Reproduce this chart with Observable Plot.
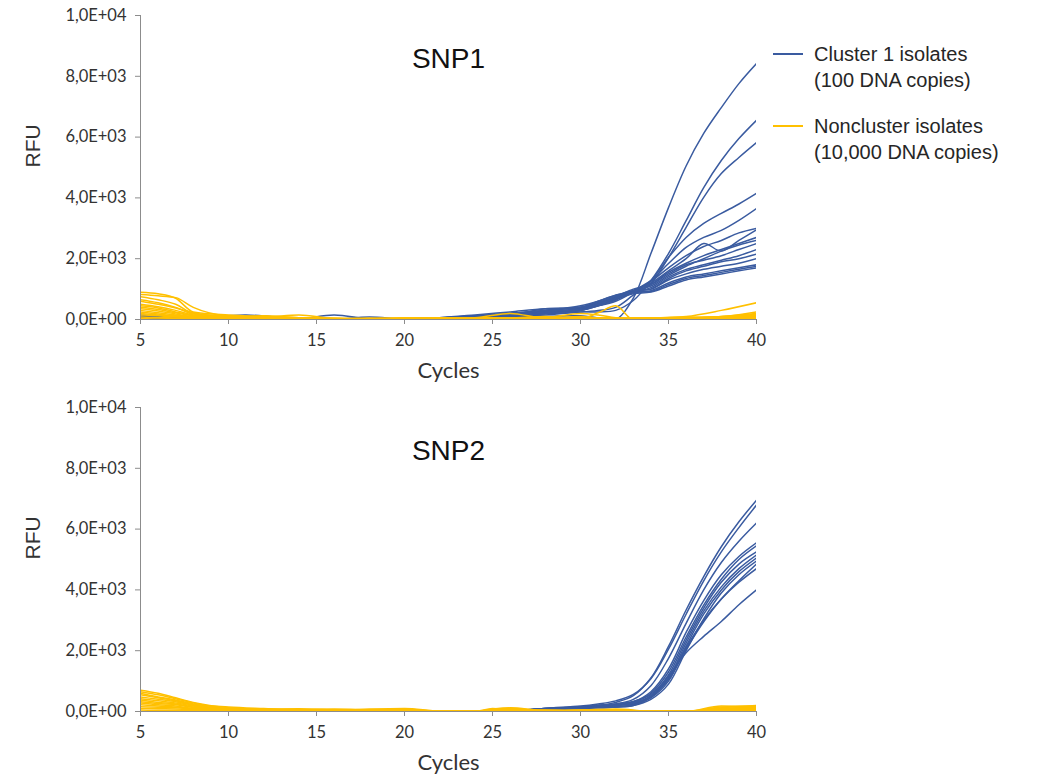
<!DOCTYPE html>
<html>
<head>
<meta charset="utf-8">
<script src="https://cdn.jsdelivr.net/npm/d3@7"></script>
<script src="https://cdn.jsdelivr.net/npm/@observablehq/plot@0.6"></script>
<style>
  html, body { margin: 0; padding: 0; background: #fff; overflow: hidden; }
  #wrap { position: relative; width: 1040px; height: 775px; }
  .panel { position: absolute; left: 0; }
  #legend { position: absolute; left: 773px; top: 41px; font-family: "Liberation Sans", Arial, sans-serif; font-size: 20px; color: #262626; line-height: 26px; }
  .item { position: relative; padding-left: 41px; margin-bottom: 20px; }
  .swatch { position: absolute; left: 0; top: 12px; width: 30px; height: 2px; }
</style>
</head>
<body>
<div id="wrap">
  <div id="top" class="panel" style="top:0px"></div>
  <div id="bottom" class="panel" style="top:392px"></div>
  <div id="legend"></div>
</div>
<script>
// ---------- Data ----------
const seriesNames = ["Cluster 1 isolates", "Noncluster isolates"];
const seriesNotes = ["(100 DNA copies)", "(10,000 DNA copies)"];
const panelTitles = ["SNP1", "SNP2"];
const xTicks = [5, 10, 15, 20, 25, 30, 35, 40];
const yTicks = [0, 2000, 4000, 6000, 8000, 10000];
const yTickLabels = ["0,0E+00", "2,0E+03", "4,0E+03", "6,0E+03", "8,0E+03", "1,0E+04"];

// SNP1 cluster-1 curves (blue)
const snp1BlueCycles = [5, 8, 11, 14, 16, 18, 20, 22, 24, 26, 28, 30, 31, 32, 33, 34, 35, 36, 37, 38, 39, 40];
const snp1Blue = [
  [150, 60, 20, 10, 20, 10, 10, 30, 50, 80, 100, 120, 50, 0, 700, 2170, 3680, 5050, 6120, 6970, 7760, 8420],
  [100, 40, 30, 10, 10, 20, 20, 40, 60, 100, 150, 250, 250, 300, 625, 1280, 2170, 3250, 4340, 5230, 5950, 6550],
  [80, 50, 150, 10, 10, 10, 20, 50, 80, 120, 200, 250, 300, 400, 800, 1180, 2040, 3030, 4020, 4800, 5330, 5820],
  [60, 30, 20, 20, 150, 20, 10, 40, 100, 150, 250, 350, 450, 600, 900, 1280, 2040, 2700, 3160, 3490, 3800, 4150],
  [50, 30, 10, 10, 10, 80, 20, 60, 120, 180, 300, 400, 500, 650, 950, 1280, 1840, 2370, 2700, 2930, 3260, 3650],
  [40, 20, 10, 20, 10, 10, 30, 50, 100, 200, 250, 300, 450, 650, 900, 1250, 1700, 2100, 2400, 2600, 2850, 3000],
  [40, 20, 10, 10, 10, 10, 20, 40, 100, 150, 350, 380, 500, 700, 950, 1200, 1600, 2000, 2500, 2250, 2600, 2950],
  [30, 20, 10, 10, 20, 10, 10, 30, 80, 150, 250, 350, 500, 700, 900, 1150, 1550, 1850, 2100, 2300, 2500, 2700],
  [30, 20, 20, 10, 10, 10, 20, 50, 90, 120, 200, 300, 450, 650, 950, 1100, 1450, 1750, 2000, 2250, 2450, 2600],
  [20, 10, 10, 10, 10, 10, 10, 40, 80, 200, 300, 400, 550, 750, 1000, 1150, 1500, 1800, 1950, 2100, 2300, 2500],
  [20, 10, 10, 10, 10, 10, 10, 30, 60, 100, 200, 300, 500, 700, 900, 1050, 1400, 1650, 1800, 1950, 2100, 2300],
  [20, 10, 10, 10, 10, 10, 10, 40, 100, 150, 250, 350, 550, 750, 950, 1000, 1350, 1600, 1750, 1900, 2000, 2150],
  [20, 10, 10, 10, 10, 10, 10, 50, 120, 200, 300, 450, 600, 800, 950, 1000, 1300, 1500, 1650, 1750, 1850, 2000],
  [10, 10, 10, 10, 10, 10, 10, 60, 150, 250, 350, 400, 600, 800, 900, 950, 1200, 1400, 1500, 1600, 1700, 1800],
  [10, 10, 10, 10, 10, 10, 10, 30, 80, 150, 250, 350, 550, 750, 900, 920, 1150, 1350, 1450, 1550, 1650, 1750],
  [10, 10, 10, 10, 10, 10, 10, 40, 100, 120, 200, 300, 500, 700, 850, 900, 1100, 1300, 1400, 1500, 1600, 1700]
];

// SNP1 noncluster curves (yellow)
const snp1YellowCycles = [5, 6, 7, 8, 10, 12, 14, 16, 18, 20, 22, 24, 26, 28, 30, 31, 32, 33, 34, 36, 38, 40];
const snp1Yellow = [
  [900, 850, 700, 250, 150, 100, 60, 20, 20, 30, 40, 50, 60, 40, 80, 60, 40, 20, 30, 60, 80, 120],
  [820, 780, 720, 400, 120, 80, 150, 30, 10, 40, 60, 30, 40, 70, 50, 30, 20, 40, 60, 40, 100, 200],
  [750, 650, 500, 200, 100, 120, 60, 40, 30, 20, 40, 60, 200, 40, 30, 220, 450, 0, 40, 80, 60, 150],
  [650, 550, 400, 180, 120, 60, 40, 20, 10, 30, 20, 40, 50, 100, 30, 60, 30, 20, 60, 30, 50, 80],
  [600, 500, 380, 220, 80, 50, 30, 20, 40, 60, 30, 20, 60, 30, 100, 40, 50, 30, 40, 100, 300, 550],
  [500, 420, 300, 150, 100, 80, 40, 30, 20, 10, 20, 30, 40, 60, 200, 150, 60, 30, 50, 60, 90, 250],
  [450, 380, 250, 130, 60, 40, 30, 20, 10, 20, 30, 40, 30, 20, 40, 50, 30, 40, 20, 40, 60, 180],
  [400, 330, 220, 120, 80, 60, 40, 30, 20, 40, 50, 30, 20, 40, 30, 20, 40, 50, 30, 60, 40, 150],
  [350, 280, 180, 100, 60, 100, 40, 30, 20, 10, 20, 40, 30, 50, 40, 30, 20, 30, 40, 30, 100, 120],
  [300, 220, 150, 80, 40, 30, 20, 10, 20, 30, 40, 20, 30, 40, 20, 30, 40, 20, 30, 50, 80, 100],
  [250, 180, 120, 100, 50, 40, 30, 20, 10, 20, 20, 30, 20, 30, 40, 20, 30, 40, 20, 40, 50, 80],
  [200, 150, 100, 60, 40, 20, 10, 20, 30, 20, 10, 20, 30, 20, 30, 40, 20, 30, 40, 30, 40, 60],
  [150, 120, 80, 50, 30, 20, 10, 10, 20, 10, 20, 10, 20, 30, 20, 30, 20, 10, 20, 30, 40, 50],
  [80, 60, 50, 40, 20, 10, 20, 10, 10, 20, 10, 20, 10, 20, 10, 20, 10, 20, 10, 20, 30, 30],
  [30, 20, 30, 20, 10, 20, 10, 0, 10, 0, 10, 0, 10, 10, 0, 10, 10, 0, 10, 10, 20, 20]
];

// SNP2 cluster-1 curves (blue)
const snp2BlueCycles = [27, 28, 30, 31, 32, 33, 34, 35, 36, 37, 38, 39, 40];
const snp2Blue = [
  [50, 80, 150, 200, 300, 520, 1100, 2140, 3340, 4440, 5420, 6240, 6950],
  [40, 100, 180, 250, 350, 560, 1080, 2050, 3200, 4300, 5250, 6050, 6790],
  [60, 100, 150, 200, 250, 400, 850, 1750, 2900, 4000, 4900, 5600, 6200],
  [50, 100, 150, 200, 220, 320, 650, 1400, 2600, 3650, 4500, 5100, 5550],
  [40, 80, 150, 150, 200, 300, 600, 1300, 2450, 3500, 4350, 5000, 5450],
  [50, 100, 150, 200, 250, 330, 560, 1200, 2350, 3400, 4250, 4850, 5250],
  [30, 80, 120, 150, 200, 250, 500, 1100, 2250, 3300, 4100, 4700, 5150],
  [60, 100, 120, 150, 150, 230, 450, 1000, 2150, 3200, 4000, 4600, 5050],
  [40, 60, 100, 120, 150, 200, 400, 900, 2000, 3050, 3900, 4500, 4950],
  [30, 60, 100, 150, 200, 280, 480, 1050, 2050, 2950, 3700, 4300, 4850],
  [50, 80, 120, 150, 200, 280, 520, 1100, 2100, 3000, 3700, 4250, 4700],
  [40, 60, 100, 120, 150, 200, 480, 1160, 1930, 2470, 2960, 3510, 4000]
];

// SNP2 noncluster curves (yellow)
const snp2YellowCycles = [5, 6, 7, 8, 10, 12, 14, 16, 18, 20, 22, 24, 25, 26, 28, 30, 32, 34, 36, 38, 40];
const snp2Yellow = [
  [700, 600, 450, 300, 120, 60, 50, 80, 60, 40, 0, 0, 80, 120, 30, 40, 50, 0, 0, 120, 200],
  [650, 550, 420, 280, 100, 80, 40, 60, 50, 80, 0, 0, 50, 100, 40, 30, 60, 0, 0, 150, 180],
  [600, 480, 380, 250, 150, 100, 60, 40, 80, 100, 10, 0, 100, 60, 30, 50, 80, 10, 0, 180, 160],
  [550, 450, 350, 220, 100, 80, 90, 50, 60, 50, 0, 10, 60, 80, 20, 30, 40, 0, 10, 100, 150],
  [480, 400, 320, 200, 80, 50, 70, 60, 40, 30, 0, 0, 40, 60, 40, 20, 30, 0, 0, 80, 140],
  [420, 350, 280, 180, 60, 40, 50, 40, 30, 60, 10, 0, 30, 40, 20, 30, 20, 0, 0, 60, 120],
  [380, 300, 250, 150, 50, 60, 40, 30, 50, 20, 0, 0, 20, 30, 30, 20, 30, 10, 0, 70, 100],
  [320, 260, 220, 130, 40, 30, 30, 40, 30, 20, 0, 0, 30, 20, 20, 30, 20, 0, 0, 50, 90],
  [280, 220, 180, 100, 50, 40, 20, 30, 20, 30, 0, 0, 20, 30, 10, 20, 10, 0, 0, 40, 80],
  [220, 180, 150, 90, 30, 20, 30, 20, 20, 10, 0, 0, 10, 20, 20, 10, 20, 0, 0, 30, 60],
  [160, 140, 120, 80, 20, 30, 20, 10, 20, 20, 0, 0, 10, 10, 10, 20, 10, 0, 0, 20, 50],
  [100, 90, 80, 60, 20, 10, 10, 20, 10, 10, 0, 0, 10, 10, 10, 10, 10, 0, 0, 20, 40],
  [50, 40, 40, 30, 10, 10, 10, 10, 10, 10, 0, 0, 0, 10, 0, 10, 0, 0, 0, 10, 30]
];

// ---------- Styling ----------
const BLUE = "#3a5ba0";
const YELLOW = "#ffc000";
const AXIS = "#8c8c8c";
const TEXT = "#333333";

function tidy(cycles, curves) {
  const out = [];
  curves.forEach((vals, id) => vals.forEach((v, i) => out.push({cycle: cycles[i], rfu: v, id})));
  return out;
}

function panel(title, blueCycles, blue, yellowCycles, yellow) {
  return Plot.plot({
    width: 780,
    height: 384,
    marginLeft: 140,
    marginRight: 24,
    marginTop: 15,
    marginBottom: 65,
    style: {fontFamily: "Lato, 'Liberation Sans', sans-serif", color: TEXT, background: "transparent", overflow: "visible"},
    x: {domain: [5, 40]},
    y: {domain: [0, 10000]},
    marks: [
      Plot.line(tidy(blueCycles, blue), {x: "cycle", y: "rfu", z: "id", stroke: BLUE, strokeWidth: 1.5, curve: "catmull-rom", clip: true}),
      Plot.line(tidy(yellowCycles, yellow), {x: "cycle", y: "rfu", z: "id", stroke: YELLOW, strokeWidth: 1.5, curve: "monotone-x", clip: true}),
      Plot.axisY({ticks: yTicks, tickFormat: d => yTickLabels[yTicks.indexOf(d)], tickSize: 5, tickPadding: 9, stroke: AXIS, fontSize: 16.5, label: null}),
      Plot.axisX({ticks: xTicks, tickSize: 5, tickPadding: 10, stroke: AXIS, fontSize: 16.5, label: null}),
      Plot.frame({anchor: "left", stroke: AXIS}),
      Plot.frame({anchor: "bottom", stroke: AXIS}),
      Plot.text([title], {frameAnchor: "top", dy: 44, lineAnchor: "middle", fontSize: 28, fontFamily: "'Liberation Sans', Arial, sans-serif", fill: "#111"}),
      Plot.text(["RFU"], {frameAnchor: "left", dx: -107, rotate: -90, fontSize: 21, fontFamily: "'Liberation Sans', Arial, sans-serif", fill: TEXT}),
      Plot.text(["Cycles"], {frameAnchor: "bottom", dy: 51, lineAnchor: "middle", fontSize: 22, fill: TEXT})
    ]
  });
}

document.getElementById("top").appendChild(panel(panelTitles[0], snp1BlueCycles, snp1Blue, snp1YellowCycles, snp1Yellow));
document.getElementById("bottom").appendChild(panel(panelTitles[1], snp2BlueCycles, snp2Blue, snp2YellowCycles, snp2Yellow));

const legend = document.getElementById("legend");
[BLUE, YELLOW].forEach((c, i) => {
  const d = document.createElement("div");
  d.className = "item";
  d.innerHTML = `<span class="swatch" style="background:${c}"></span>${seriesNames[i]}<br>${seriesNotes[i]}`;
  legend.appendChild(d);
});
</script>
</body>
</html>
